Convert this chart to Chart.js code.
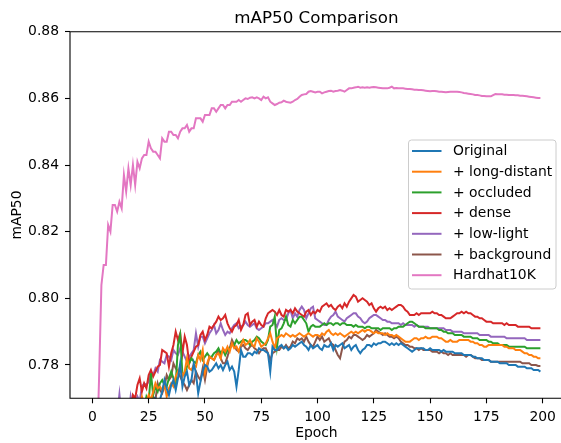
<!DOCTYPE html>
<html>
<head>
<meta charset="utf-8">
<script src="https://cdn.jsdelivr.net/npm/chart.js@4.4.0/dist/chart.umd.min.js"></script>
<style>
  html, body { margin: 0; padding: 0; background: #fff; overflow: hidden; }
</style>
</head>
<body>
<canvas id="js-chart" width="580" height="443"></canvas>
<script>
// epochs 0..199
var epochs = [];
for (var i = 0; i < 200; i++) epochs.push(i);

var xTicks = [0, 25, 50, 75, 100, 125, 150, 175, 200];
var yTicks = [0.78, 0.80, 0.82, 0.84, 0.86, 0.88];

var original = [
  0.520,0.600,0.640,0.665,0.685,0.700,0.712,0.722,0.730,0.737,
  0.742,0.747,0.751,0.754,0.757,0.759,0.761,0.763,0.764,0.766,
  0.765,0.767,0.768,0.766,0.768,0.769,0.767,0.768,0.7700,0.769,
  0.7695,0.772,0.7755,0.773,0.771,0.774,0.7755,0.7725,0.776,0.7805,
  0.7735,0.7765,0.778,0.774,0.7755,0.7805,0.7775,0.7715,0.775,0.778,
  0.780,0.7795,0.778,0.7785,0.7795,0.7805,0.779,0.780,0.7785,0.780,
  0.781,0.7785,0.7795,0.778,0.7735,0.7785,0.7845,0.7825,0.7825,0.7835,
  0.7835,0.783,0.784,0.7835,0.785,0.7845,0.7845,0.784,0.7835,0.778,
  0.7855,0.7845,0.7845,0.7855,0.786,0.785,0.7855,0.7845,0.785,0.786,
  0.7855,0.786,0.7865,0.787,0.786,0.7855,0.7845,0.786,0.785,0.7855,
  0.786,0.785,0.7845,0.786,0.7855,0.7855,0.7865,0.7845,0.786,0.7855,
  0.786,0.7865,0.785,0.7855,0.786,0.7845,0.7855,0.786,0.7845,0.7835,
  0.7845,0.785,0.786,0.786,0.7855,0.7865,0.786,0.7865,0.7865,0.787,
  0.787,0.7865,0.786,0.7865,0.786,0.7865,0.786,0.7865,0.786,0.7855,
  0.785,0.7845,0.784,0.7845,0.785,0.785,0.785,0.785,0.7845,0.7845,
  0.785,0.7845,0.7845,0.7845,0.7845,0.784,0.7845,0.784,0.784,0.784,
  0.784,0.7835,0.7835,0.7835,0.7835,0.783,0.783,0.783,0.783,0.7825,
  0.7825,0.782,0.782,0.782,0.7815,0.7815,0.7815,0.781,0.781,0.781,
  0.781,0.7805,0.7805,0.7805,0.7805,0.780,0.780,0.780,0.780,0.7795,
  0.7795,0.7795,0.7795,0.779,0.779,0.779,0.7785,0.7785,0.7785,0.778
];

var longDistant = [
  0.540,0.615,0.650,0.675,0.693,0.707,0.718,0.727,0.734,0.740,
  0.745,0.749,0.753,0.756,0.758,0.760,0.762,0.764,0.765,0.766,
  0.767,0.768,0.7705,0.768,0.769,0.771,0.7695,0.772,0.7745,0.773,
  0.7735,0.7725,0.7745,0.7705,0.773,0.7745,0.7735,0.7765,0.778,0.7795,
  0.7765,0.778,0.782,0.779,0.7785,0.780,0.7795,0.783,0.7815,0.7845,
  0.7775,0.7805,0.7825,0.782,0.7815,0.783,0.7835,0.782,0.785,0.784,
  0.7855,0.784,0.7865,0.785,0.7855,0.784,0.786,0.7875,0.786,0.7865,
  0.7875,0.786,0.7855,0.788,0.787,0.7855,0.786,0.7865,0.788,0.7895,
  0.787,0.785,0.788,0.7885,0.789,0.7885,0.7895,0.789,0.7885,0.789,
  0.7885,0.789,0.7895,0.789,0.7885,0.789,0.7895,0.789,0.7885,0.789,
  0.789,0.7885,0.7895,0.789,0.790,0.7905,0.7895,0.789,0.7895,0.789,
  0.7895,0.789,0.7885,0.789,0.7895,0.790,0.7895,0.790,0.7895,0.790,
  0.7905,0.790,0.7905,0.7905,0.790,0.7895,0.790,0.7895,0.7895,0.7895,
  0.789,0.7895,0.789,0.789,0.7885,0.789,0.7885,0.788,0.7875,0.787,
  0.787,0.787,0.7875,0.788,0.788,0.7875,0.788,0.788,0.7885,0.788,
  0.788,0.7885,0.7885,0.7885,0.788,0.788,0.7875,0.787,0.787,0.7875,
  0.787,0.787,0.787,0.7875,0.7875,0.7875,0.7875,0.7875,0.787,0.787,
  0.7865,0.7865,0.786,0.786,0.7855,0.7855,0.786,0.786,0.786,0.786,
  0.786,0.786,0.786,0.7855,0.7855,0.785,0.785,0.785,0.7845,0.7845,
  0.7845,0.784,0.7835,0.7835,0.783,0.783,0.7825,0.7825,0.782,0.782
];

var occluded = [
  0.530,0.608,0.645,0.670,0.690,0.704,0.716,0.725,0.732,0.738,
  0.743,0.748,0.752,0.755,0.757,0.759,0.761,0.763,0.764,0.765,
  0.766,0.767,0.768,0.767,0.7705,0.769,0.7775,0.771,0.7735,0.772,
  0.7745,0.7755,0.774,0.7735,0.776,0.778,0.776,0.774,0.786,0.789,
  0.777,0.7775,0.7795,0.7805,0.782,0.781,0.7805,0.783,0.784,0.7815,
  0.7825,0.7835,0.7825,0.7825,0.7835,0.784,0.785,0.7835,0.7845,0.783,
  0.7845,0.785,0.786,0.786,0.7875,0.7865,0.787,0.7875,0.7875,0.787,
  0.786,0.787,0.7875,0.7885,0.788,0.787,0.7865,0.786,0.7875,0.7915,
  0.792,0.7945,0.7855,0.7905,0.791,0.7925,0.7945,0.792,0.7915,0.7935,
  0.7925,0.7935,0.7945,0.7945,0.7935,0.7925,0.790,0.7915,0.792,0.7915,
  0.7915,0.7915,0.792,0.7925,0.792,0.7925,0.7925,0.792,0.7925,0.7925,
  0.792,0.7925,0.7925,0.792,0.792,0.792,0.7915,0.792,0.7915,0.7915,
  0.7915,0.791,0.7915,0.7915,0.791,0.791,0.791,0.791,0.7905,0.791,
  0.791,0.791,0.791,0.7905,0.791,0.791,0.7915,0.7915,0.7915,0.792,
  0.7925,0.793,0.793,0.7925,0.792,0.7915,0.7915,0.7915,0.791,0.791,
  0.791,0.791,0.791,0.791,0.7905,0.7905,0.790,0.790,0.7895,0.7895,
  0.7895,0.789,0.789,0.789,0.789,0.7885,0.7885,0.7885,0.7885,0.788,
  0.788,0.788,0.7875,0.7875,0.7875,0.7875,0.787,0.787,0.7865,0.7865,
  0.7865,0.786,0.786,0.786,0.786,0.7855,0.7855,0.7855,0.7855,0.7855,
  0.7855,0.7855,0.7855,0.785,0.785,0.785,0.785,0.785,0.785,0.785
];

var dense = [
  0.560,0.625,0.660,0.682,0.698,0.711,0.722,0.730,0.737,0.743,
  0.748,0.752,0.755,0.758,0.760,0.762,0.7635,0.7655,0.771,0.770,
  0.774,0.776,0.772,0.7745,0.773,0.777,0.7785,0.7765,0.778,0.7795,
  0.780,0.7845,0.784,0.7835,0.7795,0.7835,0.786,0.790,0.7875,0.7895,
  0.7835,0.7885,0.786,0.7805,0.7825,0.784,0.7855,0.786,0.789,0.790,
  0.7875,0.789,0.7915,0.791,0.792,0.793,0.7945,0.7935,0.794,0.795,
  0.7925,0.791,0.790,0.7915,0.792,0.7935,0.7905,0.792,0.795,0.7955,
  0.792,0.793,0.7935,0.7915,0.793,0.792,0.7915,0.794,0.7955,0.796,
  0.7965,0.796,0.795,0.7965,0.795,0.7945,0.7965,0.796,0.7965,0.7955,
  0.797,0.796,0.7955,0.795,0.7945,0.796,0.7965,0.795,0.796,0.7955,
  0.7965,0.796,0.7975,0.798,0.7985,0.7975,0.798,0.797,0.7965,0.7975,
  0.798,0.797,0.7985,0.7975,0.799,0.800,0.801,0.8005,0.799,0.7995,
  0.800,0.7995,0.799,0.798,0.7985,0.797,0.796,0.797,0.7975,0.797,
  0.7975,0.7965,0.797,0.7965,0.797,0.7975,0.798,0.798,0.7975,0.7965,
  0.796,0.795,0.795,0.795,0.7955,0.795,0.7955,0.7955,0.7955,0.7955,
  0.7955,0.796,0.7955,0.7955,0.795,0.795,0.7945,0.794,0.794,0.794,
  0.7945,0.795,0.7955,0.7955,0.796,0.7955,0.796,0.7955,0.7955,0.795,
  0.7945,0.7945,0.794,0.794,0.7935,0.793,0.793,0.793,0.7925,0.7925,
  0.7925,0.7925,0.7925,0.792,0.7925,0.792,0.792,0.792,0.792,0.7915,
  0.7915,0.7915,0.7915,0.7915,0.7915,0.791,0.791,0.791,0.791,0.791
];

var lowLight = [
  0.550,0.620,0.655,0.678,0.695,0.708,0.719,0.728,0.735,0.741,
  0.746,0.765,0.7712,0.764,0.760,0.762,0.764,0.7705,0.767,0.768,
  0.7705,0.769,0.7735,0.7745,0.774,0.775,0.778,0.777,0.779,0.778,
  0.7815,0.781,0.7805,0.783,0.7825,0.7815,0.7845,0.7835,0.783,0.785,
  0.784,0.7825,0.781,0.7825,0.7835,0.7845,0.7895,0.7855,0.7885,0.7885,
  0.7865,0.788,0.7895,0.7905,0.792,0.7895,0.7905,0.7925,0.7905,0.789,
  0.790,0.7895,0.791,0.792,0.7925,0.791,0.7915,0.792,0.793,0.792,
  0.7915,0.792,0.7925,0.791,0.7905,0.791,0.7915,0.7925,0.7925,0.793,
  0.7935,0.7925,0.7915,0.7935,0.794,0.7935,0.7935,0.7955,0.7965,0.794,
  0.7955,0.7945,0.7965,0.7975,0.7965,0.794,0.7955,0.797,0.7975,0.794,
  0.7935,0.793,0.7925,0.792,0.792,0.7935,0.7945,0.795,0.796,0.7945,
  0.794,0.7935,0.793,0.794,0.7945,0.795,0.7955,0.7955,0.7945,0.794,
  0.793,0.7925,0.793,0.794,0.7945,0.795,0.795,0.7945,0.794,0.7935,
  0.7935,0.793,0.793,0.7925,0.7925,0.7925,0.7925,0.792,0.7925,0.792,
  0.792,0.792,0.792,0.7915,0.792,0.7915,0.7915,0.7915,0.7915,0.7915,
  0.791,0.791,0.791,0.791,0.791,0.791,0.791,0.7905,0.7905,0.7905,
  0.790,0.790,0.790,0.790,0.790,0.7895,0.7895,0.7895,0.7895,0.7895,
  0.7895,0.7895,0.789,0.789,0.789,0.789,0.789,0.7885,0.7885,0.7885,
  0.7885,0.7885,0.7885,0.7885,0.788,0.788,0.788,0.788,0.788,0.788,
  0.788,0.788,0.788,0.7875,0.7875,0.7875,0.7875,0.7875,0.7875,0.7875
];

var background = [
  0.510,0.590,0.635,0.662,0.682,0.697,0.709,0.719,0.727,0.734,
  0.739,0.744,0.748,0.751,0.754,0.756,0.758,0.760,0.761,0.763,
  0.764,0.765,0.766,0.7665,0.767,0.768,0.7685,0.7705,0.7695,0.7745,
  0.7725,0.7715,0.7735,0.777,0.7755,0.7765,0.7805,0.779,0.778,0.7765,
  0.775,0.774,0.7725,0.774,0.7755,0.7745,0.778,0.7765,0.7755,0.779,
  0.7755,0.7795,0.7825,0.782,0.7815,0.783,0.7845,0.782,0.7805,0.7805,
  0.7825,0.785,0.7875,0.786,0.7845,0.784,0.7855,0.786,0.785,0.7845,
  0.7855,0.786,0.785,0.7845,0.7835,0.7845,0.785,0.785,0.7835,0.7815,
  0.7835,0.784,0.7845,0.7845,0.7855,0.785,0.786,0.785,0.7855,0.787,
  0.7865,0.788,0.7875,0.788,0.787,0.7885,0.787,0.786,0.7855,0.787,
  0.7885,0.7875,0.7885,0.787,0.7875,0.788,0.7865,0.786,0.7845,0.783,
  0.782,0.785,0.787,0.7875,0.7885,0.788,0.789,0.789,0.7885,0.788,
  0.7875,0.788,0.789,0.7885,0.789,0.7895,0.7905,0.790,0.7895,0.789,
  0.7895,0.789,0.7885,0.7885,0.788,0.7885,0.788,0.787,0.7865,0.786,
  0.786,0.7855,0.7855,0.785,0.785,0.7845,0.785,0.7845,0.7845,0.7845,
  0.7845,0.784,0.784,0.784,0.7835,0.784,0.7835,0.7835,0.783,0.7835,
  0.783,0.783,0.783,0.783,0.783,0.783,0.7825,0.783,0.783,0.7825,
  0.782,0.782,0.782,0.7815,0.7815,0.7815,0.7815,0.781,0.781,0.781,
  0.781,0.781,0.781,0.781,0.781,0.781,0.781,0.781,0.781,0.781,
  0.781,0.7805,0.7805,0.7805,0.7805,0.780,0.780,0.780,0.7797,0.7797
];

var hardhat10k = [
  0.700,0.728,0.752,0.777,0.804,0.810,0.810,0.822,0.820,0.828,
  0.828,0.826,0.829,0.827,0.837,0.832,0.839,0.834,0.840,0.834,
  0.841,0.839,0.842,0.843,0.843,0.847,0.845,0.844,0.844,0.843,
  0.842,0.848,0.847,0.847,0.850,0.850,0.849,0.849,0.848,0.850,
  0.851,0.851,0.852,0.850,0.851,0.851,0.854,0.854,0.854,0.853,
  0.855,0.855,0.855,0.857,0.857,0.856,0.857,0.858,0.858,0.857,
  0.858,0.858,0.859,0.859,0.859,0.8595,0.859,0.8595,0.860,0.8598,
  0.8602,0.8603,0.860,0.8603,0.860,0.8595,0.8605,0.860,0.8603,0.859,
  0.8585,0.858,0.8583,0.8587,0.8588,0.8593,0.859,0.8588,0.8587,0.859,
  0.8595,0.8598,0.8605,0.861,0.8612,0.8613,0.862,0.8622,0.862,0.8618,
  0.862,0.862,0.8615,0.8618,0.862,0.8622,0.8623,0.862,0.8622,0.8623,
  0.8625,0.8623,0.862,0.8625,0.863,0.863,0.8632,0.8633,0.8635,0.8632,
  0.8633,0.8632,0.8633,0.8632,0.8633,0.8634,0.8633,0.8632,0.8631,0.863,
  0.863,0.863,0.8632,0.8635,0.863,0.8631,0.863,0.863,0.863,0.8629,
  0.8628,0.8628,0.8627,0.8626,0.8626,0.8625,0.8625,0.8624,0.8623,0.8622,
  0.8621,0.8622,0.8622,0.8621,0.862,0.862,0.8619,0.8618,0.8619,0.862,
  0.862,0.862,0.862,0.8619,0.8618,0.8616,0.8615,0.8614,0.8613,0.8612,
  0.861,0.861,0.8609,0.8607,0.8607,0.8606,0.8606,0.8606,0.861,0.8613,
  0.8612,0.8612,0.8612,0.8611,0.8611,0.861,0.861,0.861,0.8609,0.8609,
  0.8608,0.8608,0.8607,0.8606,0.8605,0.8604,0.8603,0.8602,0.8601,0.8601
];

var seriesNames = ['Original', '+ long-distant', '+ occluded', '+ dense', '+ low-light', '+ background', 'Hardhat10K'];
var seriesValues = [original, longDistant, occluded, dense, lowLight, background, hardhat10k];
var seriesColors = ['#1f77b4', '#ff7f0e', '#2ca02c', '#d62728', '#9467bd', '#8c564b', '#e377c2'];

var FONT = 'DejaVu Sans';

var datasets = seriesNames.map(function(name, k) {
  return {
    label: name,
    data: seriesValues[k].map(function(v, i) { return { x: epochs[i], y: v }; }),
    borderColor: seriesColors[k],
    backgroundColor: seriesColors[k],
    borderWidth: 2,
    pointRadius: 0,
    tension: 0,
    fill: false
  };
});

// title, spines and legend drawn the matplotlib way
var mplDecor = {
  id: 'mplDecor',
  afterDatasetsDraw: function(chart) {
    var ctx = chart.ctx, a = chart.chartArea;
    ctx.save();
    // left, top and bottom spines (the right one falls outside the picture)
    ctx.strokeStyle = '#000';
    ctx.lineWidth = 1.1;
    ctx.beginPath();
    ctx.moveTo(a.right + 5, a.top);
    ctx.lineTo(a.left, a.top);
    ctx.lineTo(a.left, a.bottom);
    ctx.lineTo(a.right + 5, a.bottom);
    ctx.stroke();

    ctx.fillStyle = '#000';
    ctx.font = '16.7px "' + FONT + '"';
    ctx.textAlign = 'center';
    ctx.textBaseline = 'alphabetic';
    ctx.fillText('mAP50 Comparison', (a.left + a.right) / 2, a.top - 8.3);

    // legend box
    var lx = 408.5, ly = 140, lw = 147.5, lh = 149, r = 3;
    ctx.beginPath();
    ctx.moveTo(lx + r, ly);
    ctx.arcTo(lx + lw, ly, lx + lw, ly + lh, r);
    ctx.arcTo(lx + lw, ly + lh, lx, ly + lh, r);
    ctx.arcTo(lx, ly + lh, lx, ly, r);
    ctx.arcTo(lx, ly, lx + lw, ly, r);
    ctx.closePath();
    ctx.fillStyle = 'rgba(255,255,255,0.8)';
    ctx.fill();
    ctx.strokeStyle = '#cccccc';
    ctx.lineWidth = 1;
    ctx.stroke();

    ctx.font = '13.9px "' + FONT + '"';
    ctx.textAlign = 'left';
    ctx.textBaseline = 'middle';
    chart.data.datasets.forEach(function(ds, k) {
      var y = 151 + k * 20.7;
      ctx.strokeStyle = ds.borderColor;
      ctx.lineWidth = 2;
      ctx.beginPath();
      ctx.moveTo(412, y);
      ctx.lineTo(441.5, y);
      ctx.stroke();
      ctx.fillStyle = '#000';
      ctx.fillText(ds.label, 453, y + 0.5);
    });
    ctx.restore();
  }
};

var chart = new Chart(document.getElementById('js-chart'), {
  type: 'line',
  data: { datasets: datasets },
  plugins: [mplDecor],
  options: {
    responsive: false,
    animation: false,
    layout: { padding: { top: 31.7, right: 17.2, left: 0, bottom: 0 } },
    plugins: {
      legend: { display: false },
      title: { display: false },
      tooltip: { enabled: false }
    },
    scales: {
      x: {
        type: 'linear',
        min: -9.95,
        max: 208.95,
        afterBuildTicks: function(s) { s.ticks = xTicks.map(function(v) { return { value: v }; }); },
        afterFit: function(s) { s.height = 44.7; },
        grid: { drawOnChartArea: false, drawTicks: true, tickLength: 5, tickWidth: 1.1, tickColor: '#000' },
        border: { display: false },
        ticks: {
          padding: 6,
          color: '#000',
          maxRotation: 0,
          font: { family: FONT, size: 13.9 },
          callback: function(v) { return String(v); }
        },
        title: { display: true, text: 'Epoch', color: '#000', font: { family: FONT, size: 13.9 }, padding: { top: 0, bottom: 1.7 } }
      },
      y: {
        min: 0.77,
        max: 0.88,
        afterBuildTicks: function(s) { s.ticks = yTicks.map(function(v) { return { value: v }; }); },
        afterFit: function(s) { s.width = 70; },
        grid: { drawOnChartArea: false, drawTicks: true, tickLength: 5, tickWidth: 1.1, tickColor: '#000' },
        border: { display: false },
        ticks: {
          padding: 6,
          color: '#000',
          font: { family: FONT, size: 13.9 },
          callback: function(v) { return Number(v).toFixed(2); }
        },
        title: { display: true, text: 'mAP50', color: '#000', font: { family: FONT, size: 13.9 }, padding: { top: 9.5, bottom: 0 } }
      }
    }
  }
});
</script>
</body>
</html>
